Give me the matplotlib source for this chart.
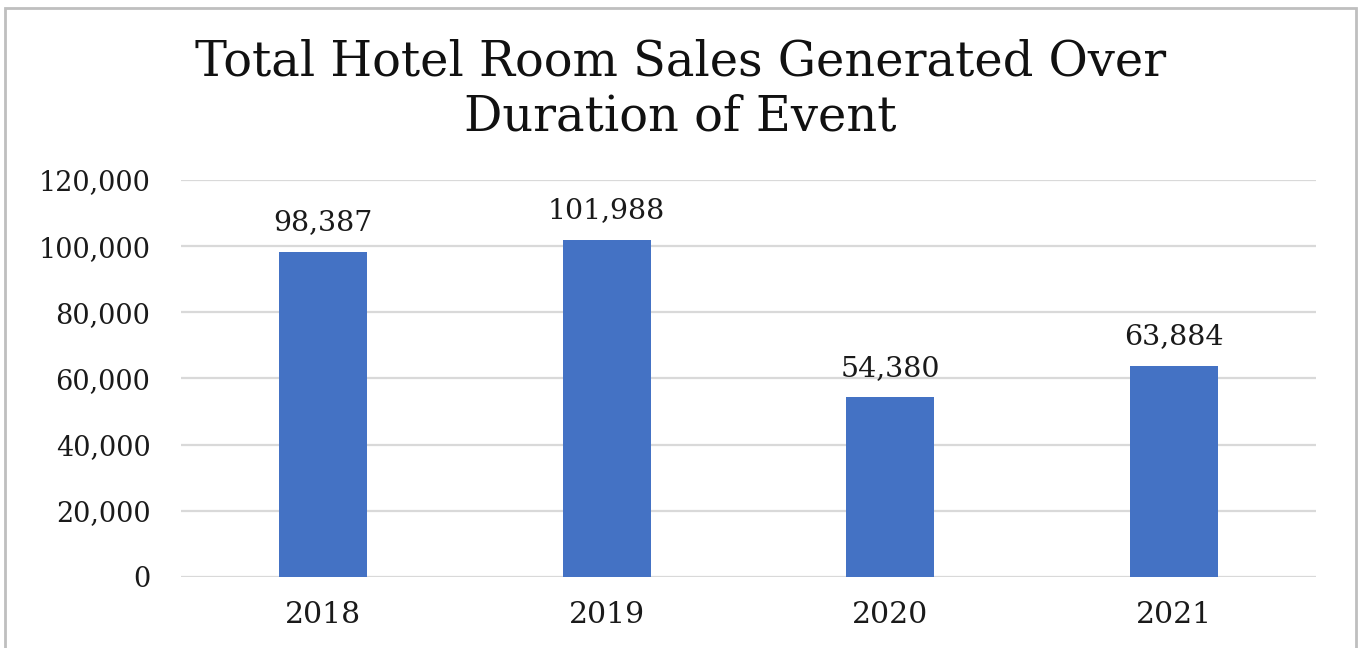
import matplotlib

matplotlib.use("Agg")
import matplotlib.pyplot as plt
from matplotlib.patches import Rectangle
from matplotlib.ticker import FuncFormatter

years = ["2018", "2019", "2020", "2021"]
sales = [98387, 101988, 54380, 63884]
y_ticks = [0, 20000, 40000, 60000, 80000, 100000, 120000]

BAR = "#4472C4"
GRID = "#D9D9D9"
FONT = "DejaVu Serif"

plt.rcParams["font.family"] = FONT

fig = plt.figure(figsize=(13.61, 6.48), dpi=100)
ax = fig.add_axes([0.133, 0.1096, 0.834, 0.6126])

x = range(len(years))
ax.bar(x, sales, width=0.31, color=BAR, zorder=3)

for xi, v in zip(x, sales):
    ax.annotate(f"{v:,}", (xi, v), xytext=(0, 11), textcoords="offset points",
                ha="center", va="bottom", fontsize=20.5, color="#1a1a1a")

ax.set_xlim(-0.5, len(years) - 0.5)
ax.set_ylim(0, 120000)
ax.set_yticks(y_ticks)
ax.yaxis.set_major_formatter(FuncFormatter(lambda v, _: f"{int(v):,}"))
ax.set_xticks(list(x))
ax.set_xticklabels(years)
ax.tick_params(axis="both", length=0, colors="#1a1a1a")
ax.tick_params(axis="y", pad=22, labelsize=19.5)
ax.tick_params(axis="x", pad=17, labelsize=21.5)

ax.grid(axis="y", color=GRID, lw=1.6, zorder=0)
for s in ax.spines.values():
    s.set_visible(False)

fig.text(0.5, 0.862, "Total Hotel Room Sales Generated Over\nDuration of Event",
         ha="center", va="center", fontsize=34.5, linespacing=1.2, color="#111111")

# chart frame (bottom edge cropped off in the original)
fig.patches.append(Rectangle((5 / 1361, -0.05), 1351 / 1361, 1 - 8 / 648 + 0.05,
                             transform=fig.transFigure, fill=False,
                             edgecolor="#BFBFBF", lw=2))

fig.savefig("out.png", dpi=100)
